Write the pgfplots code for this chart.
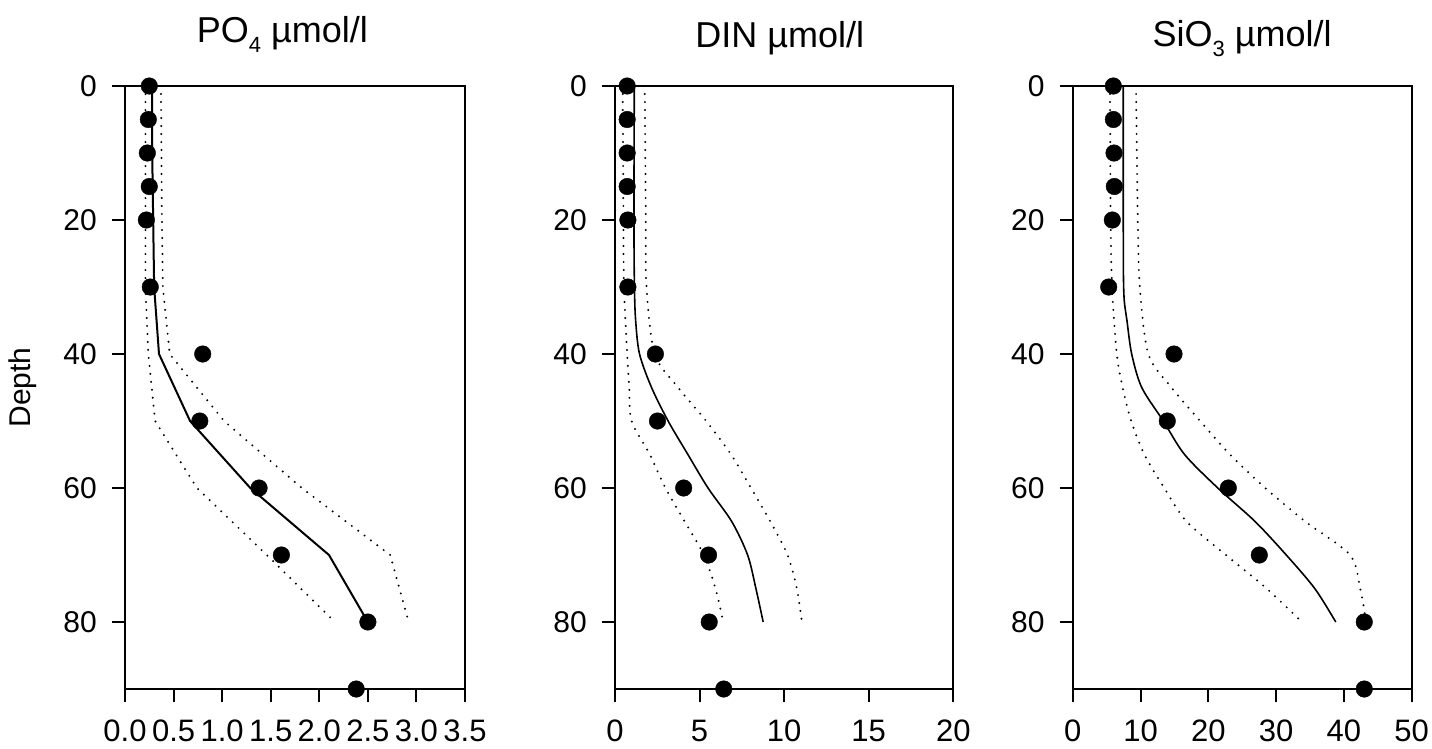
\documentclass[border=0pt]{standalone}
\usepackage{pgfplots}
\pgfplotsset{compat=1.18}
\usepackage{fontspec}
\setmainfont{Liberation Sans}

\pgfplotsset{
  prof/.style={
    scale only axis, height=603pt,
    y dir=reverse, ymin=0, ymax=90, ytick={0,20,40,60,80},
    clip=false,
    axis line style={line width=2pt},
    every tick/.style={black, line width=2pt},
    tick align=outside, major tick length=13pt,
    xtick pos=left, ytick pos=left,
    /pgf/number format/assume math mode=true,
    yticklabel style={inner sep=0pt, xshift=-15pt, font=\fontsize{30}{30}\selectfont},
    xticklabel style={inner sep=0pt, yshift=-18pt, font=\fontsize{31}{31}\selectfont},
    every axis title/.style={anchor=base, inner sep=0pt, font=\fontsize{36}{36}\selectfont},
  },
  pts/.style={only marks, mark=*, mark size=8.3pt, black, mark options={fill=black}},
  fit/.style={black, line width=1.6pt},
  ci/.style={black, line width=2.2pt, dash pattern=on 0pt off 8pt, line cap=round},
}
\newcommand{\sub}[1]{\raisebox{-10pt}[0pt][0pt]{\fontsize{22}{22}\selectfont #1}}

\begin{document}
\begin{tikzpicture}
\path[use as bounding box] (0,0) rectangle (1432pt,748pt);

% ---------- PO4 ----------
\begin{axis}[prof, at={(125pt,59pt)}, anchor=south west, width=340pt,
  xmin=0, xmax=3.5, xtick={0,0.5,...,3.5},
  xticklabel style={/pgf/number format/.cd, fixed, fixed zerofill, precision=1},
  title={PO\sub{4} µmol/l},
  title style={at={(0.463,1)}, yshift=43.3pt},
  ylabel={Depth},
  every axis y label/.style={at={(axis description cs:-0.3,0.5)}, rotate=90, anchor=center, inner sep=0pt, font=\fontsize{30}{30}\selectfont},
]
\addplot[ci] coordinates {(0.21,0) (0.21,20) (0.21,30) (0.24,40) (0.31,50) (0.74,60) (1.46,70) (2.16,80)};
\addplot[ci] coordinates {(0.37,0) (0.38,20) (0.39,30) (0.46,40) (1.02,50) (1.82,60) (2.73,70) (2.92,80)};
\addplot[fit, line width=2pt] coordinates {(0.28,0) (0.28,10) (0.29,20) (0.30,30) (0.35,40) (0.67,50) (1.29,60) (2.10,70) (2.50,80)};
\addplot[pts] coordinates {(0.25,0) (0.24,5) (0.23,10) (0.25,15) (0.22,20) (0.26,30) (0.80,40) (0.77,50) (1.38,60) (1.61,70) (2.50,80) (2.38,90)};
\end{axis}

% ---------- DIN ----------
\begin{axis}[prof, at={(615pt,59pt)}, anchor=south west, width=338.3pt,
  xmin=0, xmax=20, xtick={0,5,...,20},
  title={DIN µmol/l},
  title style={at={(0.487,1)}, yshift=39pt},
]
\addplot[ci, smooth] coordinates {(0.45,0) (0.50,20) (0.53,30) (0.72,40) (0.84,45) (0.98,50) (2.06,55) (2.98,60) (4.12,65) (5.25,70) (5.94,75) (6.40,80)};
\addplot[ci, smooth] coordinates {(1.76,0) (1.82,20) (1.86,30) (2.35,40) (3.73,45) (5.39,50) (6.86,55) (8.04,60) (9.18,65) (10.2,70) (10.75,75) (11.05,80)};
\addplot[fit, smooth] coordinates {(1.14,0) (1.12,20) (1.15,30) (1.22,35) (1.45,40) (2.16,45) (3.14,50) (4.31,55) (5.50,60) (6.90,65) (7.84,70) (8.33,75) (8.76,80)};
\addplot[pts] coordinates {(0.72,0) (0.72,5) (0.72,10) (0.72,15) (0.76,20) (0.76,30) (2.39,40) (2.51,50) (4.06,60) (5.53,70) (5.57,80) (6.43,90)};
\end{axis}

% ---------- SiO3 ----------
\begin{axis}[prof, at={(1072.7pt,59pt)}, anchor=south west, width=339pt,
  xmin=0, xmax=50, xtick={0,10,...,50},
  title={SiO\sub{3} µmol/l},
  title style={at={(0.5,1)}, yshift=40pt},
]
\addplot[ci, smooth] coordinates {(5.5,0) (5.6,20) (5.8,30) (6.5,40) (7.37,45) (8.62,50) (10.57,55) (13.5,60) (16.8,65) (22.6,70) (28.6,75) (33.8,80)};
\addplot[ci, smooth] coordinates {(9.34,0) (9.6,20) (9.9,30) (11.15,40) (14.56,45) (18.8,50) (23.2,55) (28.4,60) (34.3,65) (40.9,70) (42.4,75) (43.3,80)};
\addplot[fit, smooth] coordinates {(7.46,0) (7.46,20) (7.48,28) (7.6,32) (8.0,35) (8.7,40) (10.18,45) (13.37,50) (16.5,55) (21.4,60) (26.9,65) (31.5,70) (35.7,75) (38.8,80)};
\addplot[pts] coordinates {(5.99,0) (6.0,5) (6.09,10) (6.14,15) (5.84,20) (5.31,30) (14.94,40) (13.95,50) (22.95,60) (27.52,70) (43.0,80) (43.0,90)};
\end{axis}
\end{tikzpicture}
\end{document}
